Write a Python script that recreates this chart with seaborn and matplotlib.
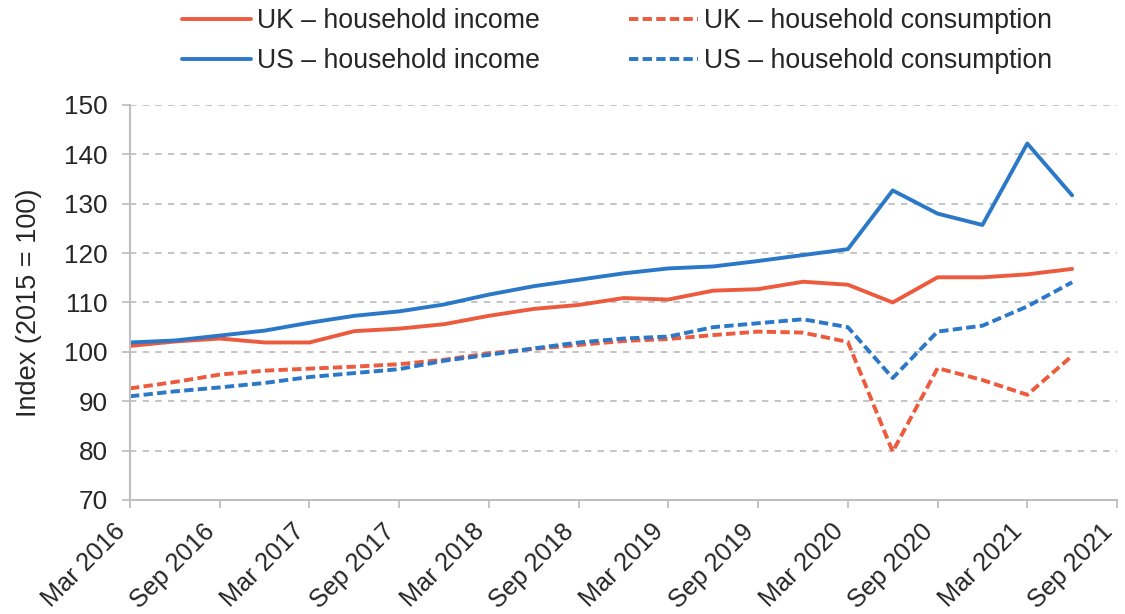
import pandas as pd
import matplotlib
matplotlib.use("Agg")
import matplotlib.pyplot as plt
import seaborn as sns

# quarterly observations, Mar 2016 .. Jun 2021
quarters = list(range(22))
uk_income = [101.2, 102.1, 102.7, 101.9, 101.9, 104.2, 104.7, 105.6, 107.3, 108.7, 109.5,
             110.9, 110.6, 112.4, 112.7, 114.2, 113.6, 110.0, 115.1, 115.1, 115.7, 116.8]
us_income = [101.9, 102.3, 103.3, 104.3, 105.9, 107.3, 108.2, 109.6, 111.6, 113.3, 114.6,
             115.9, 116.9, 117.3, 118.4, 119.6, 120.8, 132.7, 128.0, 125.7, 142.2, 131.7]
uk_consumption = [92.6, 93.9, 95.4, 96.2, 96.6, 97.0, 97.5, 98.4, 99.7, 100.6, 101.4,
                  102.2, 102.6, 103.4, 104.1, 103.9, 102.0, 79.8, 96.7, 94.3, 91.3, 99.2]
us_consumption = [91.0, 92.0, 92.8, 93.7, 94.9, 95.7, 96.5, 98.2, 99.4, 100.7, 101.9,
                  102.7, 103.1, 105.0, 105.8, 106.6, 105.0, 94.7, 104.1, 105.3, 109.2, 114.1]
tick_labels = ["Mar 2016", "Sep 2016", "Mar 2017", "Sep 2017", "Mar 2018", "Sep 2018",
               "Mar 2019", "Sep 2019", "Mar 2020", "Sep 2020", "Mar 2021", "Sep 2021"]

names = ["UK \u2013 household income", "UK \u2013 household consumption",
         "US \u2013 household income", "US \u2013 household consumption"]
series = [uk_income, uk_consumption, us_income, us_consumption]

df = pd.concat([pd.DataFrame({"q": quarters, "value": vals, "series": name})
                for name, vals in zip(names, series)], ignore_index=True)

red = "#EC5B3E"
blue = "#2B78C8"
palette = {names[0]: red, names[1]: red, names[2]: blue, names[3]: blue}
dashes = {names[0]: "", names[1]: (2.4, 1.1), names[2]: "", names[3]: (2.4, 1.1)}

sns.set_style("white")
plt.rcParams["font.family"] = ["Liberation Sans", "DejaVu Sans"]

fig, ax = plt.subplots(figsize=(11.25, 6.14), dpi=100)
fig.subplots_adjust(left=0.1156, right=0.9929, top=0.829, bottom=0.1857)

sns.lineplot(data=df, x="q", y="value", hue="series", style="series",
             palette=palette, dashes=dashes, linewidth=2.8, ax=ax, legend=True)

ax.set_xlim(0, 22)
ax.set_ylim(70, 150)
ax.set_yticks(range(70, 151, 10))
ax.set_xticks(range(0, 23, 2))
# rotated bbox right edge sits on the tick, as in the original
ax.set_xticklabels(tick_labels, rotation=45, ha="right", va="top")
ax.set_xlabel("")
ax.set_ylabel("Index (2015 = 100)", fontsize=19.5, labelpad=16)

grey = "#BFBFBF"
ax.yaxis.grid(True, color=grey, linestyle=(0, (3.5, 3.5)), linewidth=1.3)
ax.set_axisbelow(True)
for side in ["top", "right"]:
    ax.spines[side].set_visible(False)
for side in ["left", "bottom"]:
    ax.spines[side].set_color(grey)
    ax.spines[side].set_linewidth(1.5)
ax.tick_params(axis="y", length=6, width=1.3, color=grey, direction="out",
               labelsize=18.8, pad=10, left=True)
ax.tick_params(axis="x", length=6, width=1.3, color=grey, direction="out",
               labelsize=18.2, pad=8, bottom=True)

handles, labels = ax.get_legend_handles_labels()
ax.get_legend().remove()
lookup = dict(zip(labels, handles))
order = [names[0], names[2], names[1], names[3]]
fig.legend([lookup[n] for n in order], order, loc="upper left",
           bbox_to_anchor=(0.150, 1.008), ncol=2, frameon=False, fontsize=19.2,
           handlelength=2.6, handletextpad=0.2, columnspacing=3.35, labelspacing=0.52,
           borderpad=0)

plt.savefig("out.png", dpi=100)
plt.close()
